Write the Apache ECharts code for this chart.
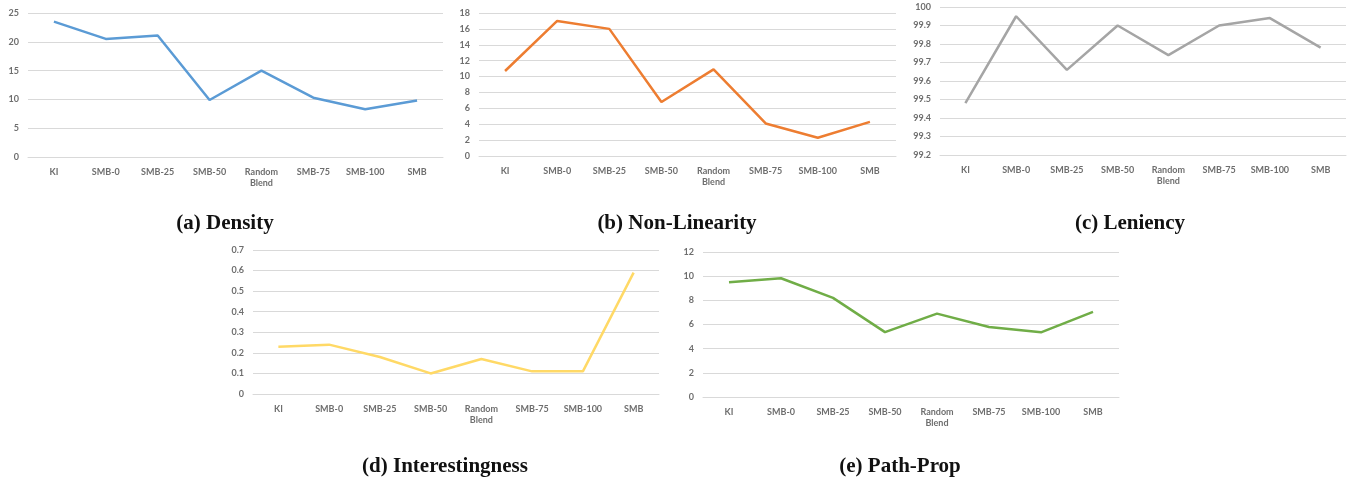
<!DOCTYPE html>
<html><head><meta charset="utf-8">
<script src="https://cdn.jsdelivr.net/npm/echarts@6/dist/echarts.min.js"></script>
<style>html,body{margin:0;padding:0;background:#fff;}#c{width:1351px;height:483px;}</style>
</head><body><div id="c"></div>
<script>
const categories = ['KI','SMB-0','SMB-25','SMB-50','Random\nBlend','SMB-75','SMB-100','SMB'];
const density = [23.5, 20.5, 21.1, 9.9, 15.0, 10.3, 8.3, 9.8];
const nonLinearity = [10.7, 17.0, 16.0, 6.8, 10.9, 4.1, 2.3, 4.3];
const leniency = [99.48, 99.95, 99.66, 99.90, 99.74, 99.90, 99.94, 99.78];
const interestingness = [0.23, 0.24, 0.18, 0.10, 0.17, 0.11, 0.11, 0.59];
const pathProp = [9.5, 9.83, 8.2, 5.37, 6.9, 5.8, 5.35, 7.05];
const captions = ['(a) Density','(b) Non-Linearity','(c) Leniency','(d) Interestingness','(e) Path-Prop'];

const panels = [
  {data: density, color:'#5B9BD5', min:0, max:25, interval:5, grid:{left:28, top:13, width:415, height:144}, cap:{x:225,y:224}},
  {data: nonLinearity, color:'#ED7D31', min:0, max:18, interval:2, grid:{left:479, top:13, width:417, height:143}, cap:{x:677,y:224}},
  {data: leniency, color:'#A5A5A5', min:99.2, max:100, interval:0.1, grid:{left:940, top:7, width:406, height:148}, cap:{x:1130,y:224}},
  {data: interestingness, color:'#FFD966', min:0, max:0.7, interval:0.1, grid:{left:253, top:250, width:406, height:144}, cap:{x:445,y:467}},
  {data: pathProp, color:'#70AD47', min:0, max:12, interval:2, grid:{left:703, top:252, width:416, height:145}, cap:{x:900,y:467}}
];

const lblFont = {fontFamily:'Lato, "Open Sans", sans-serif', fontSize:9, fontWeight:'bold', color:'#6e6e6e'};
const option = {
  animation:false,
  backgroundColor:'#fff',
  grid: panels.map(p=>p.grid),
  xAxis: panels.map((p,i)=>({
    type:'category', gridIndex:i, data:categories, boundaryGap:true,
    axisLine:{show:true, lineStyle:{color:'#d9d9d9', width:1}},
    axisTick:{show:false},
    axisLabel:Object.assign({margin:10, interval:0, lineHeight:11}, lblFont)
  })),
  yAxis: panels.map((p,i)=>({
    type:'value', gridIndex:i, min:p.min, max:p.max, interval:p.interval,
    axisLine:{show:false}, axisTick:{show:false},
    splitLine:{lineStyle:{color:'#d9d9d9', width:1}},
    axisLabel:Object.assign({margin:9, formatter:(v)=>String(Math.round(v*10)/10)}, lblFont)
  })),
  series: panels.map((p,i)=>({
    type:'line', xAxisIndex:i, yAxisIndex:i, data:p.data, symbol:'none',
    lineStyle:{color:p.color, width:2.5}, itemStyle:{color:p.color}
  })),
  graphic: panels.map((p,i)=>({
    type:'text', x:p.cap.x, y:p.cap.y,
    style:{text:captions[i], font:'bold 21px "Liberation Serif", "DejaVu Serif", serif', fill:'#111', textAlign:'center', textVerticalAlign:'middle'}
  }))
};
echarts.init(document.getElementById('c')).setOption(option);
</script></body></html>
